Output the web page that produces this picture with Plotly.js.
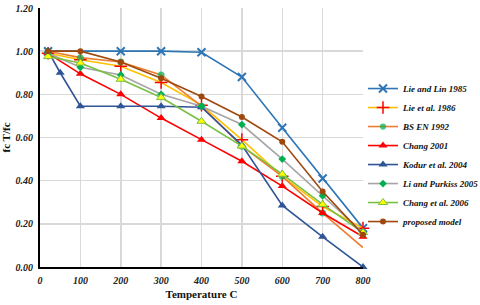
<!DOCTYPE html>
<html>
<head>
<meta charset="utf-8">
<script src="https://cdn.plot.ly/plotly-3.0.1.min.js"></script>
<style>html,body{margin:0;padding:0;background:#fff;}#chart{width:480px;height:305px;}</style>
</head>
<body>
<div id="chart"></div>
<script>
// Temperatures (C)
const tLieLin = [20, 200, 300, 400, 500, 600, 700, 800];
const vLieLin = [1.00, 1.00, 1.00, 0.995, 0.88, 0.645, 0.41, 0.18];

const tStd = [20, 100, 200, 300, 400, 500, 600, 700, 800];
const vLie1986 = [0.99, 0.96, 0.93, 0.855, 0.75, 0.59, 0.42, 0.28, 0.18];
const vBSEN = [1.00, 0.97, 0.95, 0.89, 0.745, 0.56, 0.42, 0.25, 0.09];
const vChang2001 = [0.99, 0.895, 0.80, 0.69, 0.59, 0.49, 0.375, 0.25, 0.14];

const tKodur = [20, 50, 100, 200, 300, 400, 500, 600, 700, 800];
const vKodur = [1.00, 0.90, 0.745, 0.745, 0.745, 0.74, 0.565, 0.285, 0.14, 0.00];

const vLiPurkiss = [0.99, 0.925, 0.89, 0.80, 0.745, 0.66, 0.50, 0.33, 0.16];
const vChang2006 = [0.975, 0.945, 0.87, 0.785, 0.675, 0.56, 0.43, 0.29, 0.16];
const vProposed = [1.00, 1.00, 0.95, 0.875, 0.79, 0.695, 0.58, 0.35, 0.15];

const names = ['Lie and Lin 1985', 'Lie et al. 1986', 'BS EN 1992', 'Chang 2001',
  'Kodur et al. 2004', 'Li and Purkiss 2005', 'Chang et al. 2006', 'proposed model'];

const xTicks = [0, 100, 200, 300, 400, 500, 600, 700, 800];
const yTicks = [0, 0.2, 0.4, 0.6, 0.8, 1.0, 1.2];

function tr(name, x, y, lineColor, marker) {
  return {type: 'scatter', mode: 'lines+markers', name: name, x: x, y: y, cliponaxis: false,
    line: {color: lineColor, width: 1.6}, marker: marker};
}

const traces = [
  tr(names[0], tLieLin, vLieLin, '#2E75B6', {symbol: 'x-thin-open', size: 8, color: '#2E75B6', line: {color: '#2E75B6', width: 2}}),
  tr(names[1], tStd, vLie1986, '#FFC000', {symbol: 'cross-thin-open', size: 9, color: '#FF0000', line: {color: '#FF0000', width: 1.5}}),
  tr(names[2], tStd, vBSEN, '#ED7D31', {symbol: 'circle', size: vBSEN.map((v, i) => i === vBSEN.length - 1 ? 0 : 7), color: '#00B050', line: {width: 0}}),
  tr(names[3], tStd, vChang2001, '#FF0000', {symbol: 'triangle-up', size: 8, color: '#FF0000', line: {width: 0}}),
  tr(names[4], tKodur, vKodur, '#2F5597', {symbol: 'triangle-up', size: 8, color: '#2F5597', line: {width: 0}}),
  tr(names[5], tStd, vLiPurkiss, '#A5A5A5', {symbol: 'diamond', size: 6, color: '#00B050', line: {width: 0}}),
  tr(names[6], tStd, vChang2006, '#78C043', {symbol: 'triangle-up', size: 8, color: '#FFFF00', line: {color: '#78C043', width: 1}}),
  tr(names[7], tStd, vProposed, '#9E480E', {symbol: 'circle', size: 6, color: '#9E480E', line: {width: 0}})
];

const tickFont = {family: 'Liberation Serif', size: 10, color: '#222', weight: 'bold', style: 'italic'};

const layout = {
  width: 480, height: 305,
  margin: {l: 40, r: 117, t: 8, b: 38, autoexpand: false},
  paper_bgcolor: '#fff', plot_bgcolor: '#fff',
  showlegend: true,
  legend: {x: 1.0, xanchor: 'left', y: 0.745, yanchor: 'top',
    font: {family: 'Liberation Serif', size: 9, color: '#111', weight: 'bold', style: 'italic'},
    tracegroupgap: 0, itemwidth: 30, bgcolor: 'rgba(0,0,0,0)', borderwidth: 0},
  xaxis: {range: [0, 800], tickvals: xTicks, ticktext: xTicks.map(String), automargin: false,
    showgrid: true, gridcolor: '#d9d9d9', gridwidth: 1.5,
    showline: true, linecolor: '#000', linewidth: 2, zeroline: false,
    ticks: 'outside', ticklen: 3, tickcolor: 'rgba(0,0,0,0)', tickfont: tickFont,
    title: {text: 'Temperature C', font: {family: 'Liberation Serif', size: 11, color: '#111', weight: 'bold'}, standoff: 5}},
  yaxis: {range: [0, 1.2], tickvals: yTicks, ticktext: yTicks.map(v => v.toFixed(2)), automargin: false,
    showgrid: true, gridcolor: '#d9d9d9', gridwidth: 1.5,
    showline: true, linecolor: '#000', linewidth: 2, zeroline: false,
    ticks: 'outside', ticklen: 3, tickcolor: 'rgba(0,0,0,0)', tickfont: tickFont,
    title: {text: 'fc T/fc', font: {family: 'Liberation Serif', size: 11, color: '#111', weight: 'bold'}, standoff: 4}}
};

Plotly.newPlot('chart', traces, layout, {displayModeBar: false, staticPlot: true});
</script>
</body>
</html>
